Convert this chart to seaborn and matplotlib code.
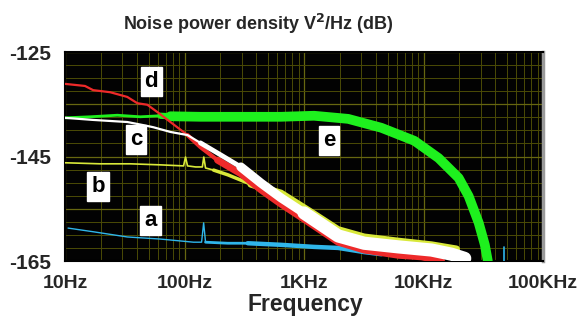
import numpy as np
import pandas as pd
import matplotlib
matplotlib.use("Agg")
import matplotlib.pyplot as plt
from matplotlib.ticker import FixedLocator, LogLocator, NullFormatter
import seaborn as sns

# curve d (red)
d_freq = [10, 14.7, 17.2, 23.9, 33.2, 40.3, 48.9, 59.3, 76.2, 106, 136, 189,
          296, 437, 641, 1000, 1932, 3192, 6166, 9616, 14160]
d_db = [-131.1, -131.5, -132.3, -132.7, -133.6, -134.8, -135.1, -136.5, -138.4,
        -140.9, -143.2, -145.7, -148.3, -151.4, -154.1, -157.0, -161.4, -162.9,
        -163.9, -164.2, -165.0]

# curve c (white)
c_freq = [10, 17.2, 33.2, 45.3, 54.9, 76.2, 106, 136, 201, 296, 437, 641, 1000,
          1932, 3192, 6166, 11670, 17180, 22130]
c_db = [-137.6, -138.0, -138.4, -139.0, -139.4, -140.3, -140.9, -142.4, -144.7,
        -147.0, -150.1, -152.9, -155.8, -160.2, -161.6, -162.3, -162.9, -163.7,
        -164.5]

# curve b (yellow)
b_freq = [10, 19.7, 35.2, 62.8, 98.2, 102, 106, 124, 141, 145, 150, 175, 230,
          359, 641, 1213, 1932, 3192, 6166, 11670, 18900]
b_db = [-146.2, -146.4, -146.4, -146.6, -146.8, -145.1, -146.8, -147.0, -147.0,
        -145.1, -147.2, -147.6, -148.5, -150.3, -152.0, -156.0, -159.0, -160.4,
        -161.2, -161.9, -162.7]

# curve a (blue)
a_freq = [10.6, 17.2, 33.2, 62.8, 119, 139, 144.6, 150, 230, 338, 641, 1213,
          1932, 3192, 4436]
a_db = [-158.7, -159.4, -160.4, -160.8, -161.4, -161.4, -157.7, -161.4, -161.6,
        -161.6, -161.9, -162.3, -162.5, -163.3, -163.7]
a_spike_freq = [46800, 46800]
a_spike_db = [-165.0, -162.3]

# curve e (green)
e_freq = [10, 16.2, 27.4, 42.7, 62.8, 76.2, 136, 296, 641, 1213, 2344, 4436, 8395,
          13370, 19680, 23880, 28970, 32590, 34540]
e_db = [-137.6, -137.4, -137.1, -137.4, -137.2, -137.3, -137.4, -137.4, -137.4,
        -137.2, -137.8, -139.5, -142.0, -145.3, -149.1, -152.6, -157.7, -161.9,
        -165.0]

x_ticks = [10, 100, 1000, 10000, 100000]
x_tick_labels = ['10Hz', '100Hz', '1KHz', '10KHz', '100KHz']
y_ticks = [-165, -155, -145, -135, -125]
y_tick_labels = ['-165', '', '-145', '', '-125']

# label boxes (letter, freq, dB)
curve_labels = [('d', 52.8, -130.7), ('c', 39.5, -141.8), ('b', 18.9, -150.8),
                ('a', 51.8, -157.2), ('e', 1620, -142.0)]

RED = '#ee2a2a'
WHITE = '#ffffff'
YELLOW = '#d9e93a'
BLUE = '#2fb6ea'
GREEN = '#1ef01e'
GRID = '#4b4b06'

sns.set_theme(style='dark')
plt.rcParams['font.family'] = ['Liberation Sans', 'DejaVu Sans']

fig = plt.figure(figsize=(5.81, 3.23), dpi=100)
ax = fig.add_axes([65 / 581, 1 - 261 / 323, 478 / 581, 209 / 323])
ax.set_facecolor('#020202')


def draw(freq, db, color, widths, zorder):
	# widths: list of (start index, linewidth); each piece runs to the next start
	df = pd.DataFrame({'f': freq, 'db': db})
	bounds = [w[0] for w in widths] + [len(df) - 1]
	for (start, lw), end in zip(widths, bounds[1:]):
		sns.lineplot(data=df.iloc[start:end + 1], x='f', y='db', color=color,
		             linewidth=lw, ax=ax, zorder=zorder, estimator=None, sort=False)
		ax.lines[-1].set_solid_joinstyle('round')
		ax.lines[-1].set_solid_capstyle('round')


draw(e_freq, e_db, GREEN, [(0, 2.0), (4, 4.5), (5, 7.0)], 3)
draw(a_freq, a_db, BLUE, [(0, 1.0), (7, 2.0), (9, 3.2)], 4)
ax.plot(a_spike_freq, a_spike_db, color=BLUE, lw=1.2, zorder=4)
draw(b_freq, b_db, YELLOW, [(0, 1.2), (11, 2.5), (13, 5.0)], 5)
draw(d_freq, d_db, RED, [(0, 1.6), (9, 3.0), (11, 5.0)], 6)
draw(c_freq, c_db, WHITE, [(0, 1.6), (7, 3.5), (9, 6.5), (12, 9.5)], 7)

ax.set_xscale('log')
ax.set_xlim(10, 100000)
ax.set_ylim(-165, -125)

ax.xaxis.set_major_locator(FixedLocator(x_ticks))
ax.set_xticklabels(x_tick_labels)
ax.xaxis.set_minor_locator(LogLocator(base=10, subs=np.arange(2, 10)))
ax.xaxis.set_minor_formatter(NullFormatter())
ax.yaxis.set_major_locator(FixedLocator(y_ticks))
ax.set_yticklabels(y_tick_labels)
ax.yaxis.set_minor_locator(FixedLocator(np.arange(-165, -124, 2.5)))

ax.grid(which='major', color='#666610', linewidth=0.9)
ax.grid(which='minor', color=GRID, linewidth=0.7)
ax.set_axisbelow(True)
ax.tick_params(axis='both', which='major', direction='out', length=8, width=1.8,
               color='black', pad=2)
ax.tick_params(axis='x', which='major', labelsize=14)
ax.tick_params(axis='y', which='major', labelsize=15)
ax.tick_params(axis='both', which='minor', length=0)
for lab in ax.get_xticklabels() + ax.get_yticklabels():
	lab.set_fontweight('bold')

for side in ['left', 'bottom', 'top']:
	ax.spines[side].set_color('black')
	ax.spines[side].set_linewidth(1.5)
ax.spines['right'].set_color('#9a9a9a')
ax.spines['right'].set_linewidth(2.5)

ax.set_xlabel('')
ax.set_ylabel('')

for letter, fx, fy in curve_labels:
	ax.text(fx, fy, letter, ha='center', va='center', fontsize=16, fontweight='bold',
	        color='black', zorder=10,
	        bbox=dict(boxstyle='square,pad=0.18', facecolor='white', edgecolor='white'))

fig.text(258 / 581, 1 - 24 / 323, 'Noise power density V$^\\mathbf{2}$/Hz (dB)',
         ha='center', va='center', fontsize=13, fontweight='bold')
fig.text(305 / 581, 1 - 304 / 323, 'Frequency', ha='center', va='center',
         fontsize=16.5, fontweight='bold')

fig.savefig('out.png', dpi=100, facecolor='white')
